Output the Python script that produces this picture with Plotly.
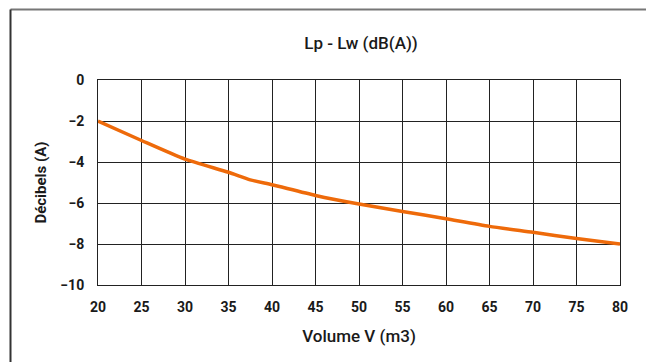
import plotly.graph_objects as go

volume = [20, 25, 30, 35, 37.5, 40, 45, 50, 55, 60, 65, 70, 75, 80]
lp_lw = [-2.0, -2.95, -3.86, -4.5, -4.87, -5.11, -5.63, -6.05, -6.41, -6.77, -7.14, -7.43, -7.73, -8.0]

x_ticks = list(range(20, 85, 5))
y_ticks = [0, -2, -4, -6, -8, -10]

# page body has an 8px margin, so the figure is drawn 8px smaller
W, H = 646, 354
L, R, T, B = 90, 34, 72, 77
pw, ph = W - L - R, H - T - B


def px_x(p):
    return (p - L) / pw


def px_y(p):
    return (H - B - p) / ph


fig = go.Figure()
fig.add_trace(go.Scatter(
    x=volume, y=lp_lw,
    mode='lines',
    line=dict(color='#EE6A0A', width=3.5, shape='spline', smoothing=0.6),
    hoverinfo='skip'
))

# outer frame (clipped at right/bottom like the source image)
fig.add_shape(type='line', xref='paper', yref='paper',
              x0=px_x(2.5), x1=px_x(700), y0=px_y(1.5), y1=px_y(1.5),
              line=dict(color='#777777', width=2))
fig.add_shape(type='line', xref='paper', yref='paper',
              x0=px_x(2.5), x1=px_x(2.5), y0=px_y(1.5), y1=px_y(400),
              line=dict(color='#333333', width=2))

fig.update_layout(
    width=W, height=H,
    margin=dict(l=L, r=R, t=T, b=B),
    plot_bgcolor='white',
    paper_bgcolor='white',
    showlegend=False,
    font=dict(family='Roboto, sans-serif', color='#1a1a1a'),
    title=dict(text='Lp - Lw (dB(A))', x=353 / W, xanchor='center',
               y=1 - 35 / H, yanchor='middle',
               font=dict(size=17, family='Roboto, sans-serif', weight=500)),
)
fig.update_xaxes(
    range=[20, 80], tickvals=x_ticks,
    showgrid=True, gridcolor='#222222', gridwidth=1,
    showline=True, linecolor='#222222', linewidth=1, mirror=True,
    zeroline=False, ticks='', ticklen=0, ticklabelstandoff=9,
    tickfont=dict(size=14, weight='bold'),
    title=dict(text='Volume V (m3)', standoff=16, font=dict(size=17, weight=500)),
)
fig.update_yaxes(
    range=[-10, 0], tickvals=y_ticks,
    showgrid=True, gridcolor='#222222', gridwidth=1,
    showline=True, linecolor='#222222', linewidth=1, mirror=True,
    zeroline=False, ticks='', ticklen=0, ticklabelstandoff=10,
    tickfont=dict(size=14, weight='bold'),
    title=dict(text='Décibels (A)', standoff=10, font=dict(size=15, weight='bold')),
)

fig.write_html('out.html')
